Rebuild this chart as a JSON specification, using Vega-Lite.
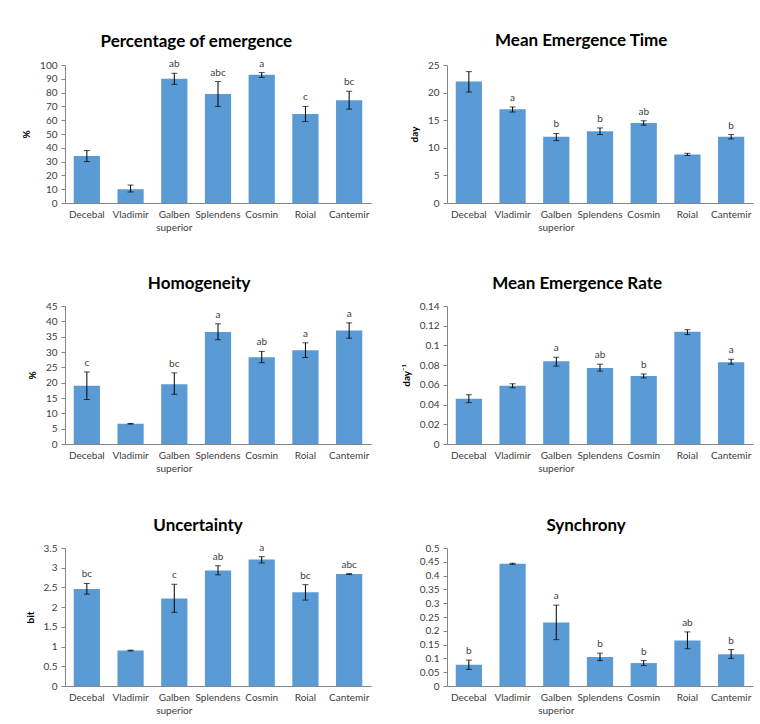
{
  "$schema": "https://vega.github.io/schema/vega-lite/v6.json",
  "background": "white",
  "padding": {"left": 21, "top": 31, "right": 5, "bottom": 5},
  "datasets": {
    "rows": [
      {"panel": "P1", "cultivar": "Decebal", "mean": 34, "lo": 30, "hi": 38, "letter": ""},
      {"panel": "P1", "cultivar": "Vladimir", "mean": 10, "lo": 8, "hi": 13, "letter": ""},
      {"panel": "P1", "cultivar": "Galben superior", "mean": 90, "lo": 86, "hi": 94, "letter": "ab"},
      {"panel": "P1", "cultivar": "Splendens", "mean": 79, "lo": 70, "hi": 88, "letter": "abc"},
      {"panel": "P1", "cultivar": "Cosmin", "mean": 93, "lo": 91, "hi": 94.5, "letter": "a"},
      {"panel": "P1", "cultivar": "Roial", "mean": 64.5, "lo": 59, "hi": 70, "letter": "c"},
      {"panel": "P1", "cultivar": "Cantemir", "mean": 74.5, "lo": 68, "hi": 81, "letter": "bc"},

      {"panel": "P2", "cultivar": "Decebal", "mean": 22, "lo": 20.1, "hi": 23.8, "letter": ""},
      {"panel": "P2", "cultivar": "Vladimir", "mean": 17, "lo": 16.5, "hi": 17.4, "letter": "a"},
      {"panel": "P2", "cultivar": "Galben superior", "mean": 12, "lo": 11.3, "hi": 12.6, "letter": "b"},
      {"panel": "P2", "cultivar": "Splendens", "mean": 13, "lo": 12.4, "hi": 13.6, "letter": "b"},
      {"panel": "P2", "cultivar": "Cosmin", "mean": 14.5, "lo": 14.1, "hi": 14.9, "letter": "ab"},
      {"panel": "P2", "cultivar": "Roial", "mean": 8.8, "lo": 8.6, "hi": 9.0, "letter": ""},
      {"panel": "P2", "cultivar": "Cantemir", "mean": 12, "lo": 11.6, "hi": 12.4, "letter": "b"},

      {"panel": "P3", "cultivar": "Decebal", "mean": 19, "lo": 14.5, "hi": 23.5, "letter": "c"},
      {"panel": "P3", "cultivar": "Vladimir", "mean": 6.6, "lo": 6.5, "hi": 6.7, "letter": ""},
      {"panel": "P3", "cultivar": "Galben superior", "mean": 19.5, "lo": 16.2, "hi": 23.2, "letter": "bc"},
      {"panel": "P3", "cultivar": "Splendens", "mean": 36.5, "lo": 34, "hi": 39.2, "letter": "a"},
      {"panel": "P3", "cultivar": "Cosmin", "mean": 28.3, "lo": 26.5, "hi": 30.2, "letter": "ab"},
      {"panel": "P3", "cultivar": "Roial", "mean": 30.6, "lo": 28.2, "hi": 33, "letter": "a"},
      {"panel": "P3", "cultivar": "Cantemir", "mean": 37, "lo": 34.5, "hi": 39.5, "letter": "a"},

      {"panel": "P4", "cultivar": "Decebal", "mean": 0.046, "lo": 0.042, "hi": 0.050, "letter": ""},
      {"panel": "P4", "cultivar": "Vladimir", "mean": 0.059, "lo": 0.057, "hi": 0.061, "letter": ""},
      {"panel": "P4", "cultivar": "Galben superior", "mean": 0.084, "lo": 0.079, "hi": 0.088, "letter": "a"},
      {"panel": "P4", "cultivar": "Splendens", "mean": 0.077, "lo": 0.074, "hi": 0.081, "letter": "ab"},
      {"panel": "P4", "cultivar": "Cosmin", "mean": 0.069, "lo": 0.067, "hi": 0.071, "letter": "b"},
      {"panel": "P4", "cultivar": "Roial", "mean": 0.114, "lo": 0.111, "hi": 0.116, "letter": ""},
      {"panel": "P4", "cultivar": "Cantemir", "mean": 0.083, "lo": 0.081, "hi": 0.086, "letter": "a"},

      {"panel": "P5", "cultivar": "Decebal", "mean": 2.46, "lo": 2.33, "hi": 2.6, "letter": "bc"},
      {"panel": "P5", "cultivar": "Vladimir", "mean": 0.9, "lo": 0.89, "hi": 0.91, "letter": ""},
      {"panel": "P5", "cultivar": "Galben superior", "mean": 2.22, "lo": 1.87, "hi": 2.58, "letter": "c"},
      {"panel": "P5", "cultivar": "Splendens", "mean": 2.93, "lo": 2.82, "hi": 3.05, "letter": "ab"},
      {"panel": "P5", "cultivar": "Cosmin", "mean": 3.21, "lo": 3.12, "hi": 3.28, "letter": "a"},
      {"panel": "P5", "cultivar": "Roial", "mean": 2.38, "lo": 2.18, "hi": 2.57, "letter": "bc"},
      {"panel": "P5", "cultivar": "Cantemir", "mean": 2.84, "lo": 2.83, "hi": 2.85, "letter": "abc"},

      {"panel": "P6", "cultivar": "Decebal", "mean": 0.077, "lo": 0.06, "hi": 0.094, "letter": "b"},
      {"panel": "P6", "cultivar": "Vladimir", "mean": 0.443, "lo": 0.441, "hi": 0.445, "letter": ""},
      {"panel": "P6", "cultivar": "Galben superior", "mean": 0.23, "lo": 0.168, "hi": 0.293, "letter": "a"},
      {"panel": "P6", "cultivar": "Splendens", "mean": 0.105, "lo": 0.092, "hi": 0.119, "letter": "b"},
      {"panel": "P6", "cultivar": "Cosmin", "mean": 0.083, "lo": 0.074, "hi": 0.092, "letter": "b"},
      {"panel": "P6", "cultivar": "Roial", "mean": 0.165, "lo": 0.135, "hi": 0.196, "letter": "ab"},
      {"panel": "P6", "cultivar": "Cantemir", "mean": 0.115, "lo": 0.1, "hi": 0.132, "letter": "b"}
    ]
  },
  "columns": 2,
  "spacing": {"column": 30, "row": 43},
  "concat": [
    {
      "title": {"text": "Percentage of emergence", "offset": 8},
      "width": 306, "height": 138,
      "data": {"name": "rows"},
      "transform": [{"filter": "datum.panel == 'P1'"}],
      "encoding": {"x": {"field": "cultivar", "type": "nominal", "sort": null, "scale": {"paddingInner": 0.4, "paddingOuter": 0.2}, "axis": {"labelExpr": "split(datum.label, ' ')"}}},
      "layer": [
        {"mark": {"type": "bar", "color": "#5B9BD5"}, "encoding": {"y": {"field": "mean", "type": "quantitative", "title": "%", "scale": {"domain": [0, 100]}, "axis": {"values": [0,10,20,30,40,50,60,70,80,90,100]}}}},
        {"mark": {"type": "rule", "color": "#000", "strokeWidth": 1}, "encoding": {"y": {"field": "lo", "type": "quantitative", "title": "%", "scale": {"domain": [0, 100]}, "axis": {"values": [0,10,20,30,40,50,60,70,80,90,100]}}, "y2": {"field": "hi"}}},
        {"mark": {"type": "tick", "color": "#000", "size": 6, "thickness": 1}, "encoding": {"y": {"field": "lo", "type": "quantitative", "title": "%", "scale": {"domain": [0, 100]}, "axis": {"values": [0,10,20,30,40,50,60,70,80,90,100]}}}},
        {"mark": {"type": "tick", "color": "#000", "size": 6, "thickness": 1}, "encoding": {"y": {"field": "hi", "type": "quantitative", "title": "%", "scale": {"domain": [0, 100]}, "axis": {"values": [0,10,20,30,40,50,60,70,80,90,100]}}}},
        {"mark": {"type": "text", "baseline": "bottom", "dy": -4, "fontSize": 10, "color": "#404040", "font": "Lato"}, "encoding": {"y": {"field": "hi", "type": "quantitative", "title": "%", "scale": {"domain": [0, 100]}, "axis": {"values": [0,10,20,30,40,50,60,70,80,90,100]}}, "text": {"field": "letter"}}}
      ]
    },
    {
      "title": {"text": "Mean Emergence Time", "offset": 8},
      "width": 306, "height": 138,
      "data": {"name": "rows"},
      "transform": [{"filter": "datum.panel == 'P2'"}],
      "encoding": {"x": {"field": "cultivar", "type": "nominal", "sort": null, "scale": {"paddingInner": 0.4, "paddingOuter": 0.2}, "axis": {"labelExpr": "split(datum.label, ' ')"}}},
      "layer": [
        {"mark": {"type": "bar", "color": "#5B9BD5"}, "encoding": {"y": {"field": "mean", "type": "quantitative", "title": "day", "scale": {"domain": [0, 25]}, "axis": {"values": [0,5,10,15,20,25]}}}},
        {"mark": {"type": "rule", "color": "#000", "strokeWidth": 1}, "encoding": {"y": {"field": "lo", "type": "quantitative", "title": "day", "scale": {"domain": [0, 25]}, "axis": {"values": [0,5,10,15,20,25]}}, "y2": {"field": "hi"}}},
        {"mark": {"type": "tick", "color": "#000", "size": 6, "thickness": 1}, "encoding": {"y": {"field": "lo", "type": "quantitative", "title": "day", "scale": {"domain": [0, 25]}, "axis": {"values": [0,5,10,15,20,25]}}}},
        {"mark": {"type": "tick", "color": "#000", "size": 6, "thickness": 1}, "encoding": {"y": {"field": "hi", "type": "quantitative", "title": "day", "scale": {"domain": [0, 25]}, "axis": {"values": [0,5,10,15,20,25]}}}},
        {"mark": {"type": "text", "baseline": "bottom", "dy": -4, "fontSize": 10, "color": "#404040", "font": "Lato"}, "encoding": {"y": {"field": "hi", "type": "quantitative", "title": "day", "scale": {"domain": [0, 25]}, "axis": {"values": [0,5,10,15,20,25]}}, "text": {"field": "letter"}}}
      ]
    },
    {
      "title": {"text": "Homogeneity", "offset": 8},
      "width": 306, "height": 138,
      "data": {"name": "rows"},
      "transform": [{"filter": "datum.panel == 'P3'"}],
      "encoding": {"x": {"field": "cultivar", "type": "nominal", "sort": null, "scale": {"paddingInner": 0.4, "paddingOuter": 0.2}, "axis": {"labelExpr": "split(datum.label, ' ')"}}},
      "layer": [
        {"mark": {"type": "bar", "color": "#5B9BD5"}, "encoding": {"y": {"field": "mean", "type": "quantitative", "title": "%", "scale": {"domain": [0, 45]}, "axis": {"values": [0,5,10,15,20,25,30,35,40,45]}}}},
        {"mark": {"type": "rule", "color": "#000", "strokeWidth": 1}, "encoding": {"y": {"field": "lo", "type": "quantitative", "title": "%", "scale": {"domain": [0, 45]}, "axis": {"values": [0,5,10,15,20,25,30,35,40,45]}}, "y2": {"field": "hi"}}},
        {"mark": {"type": "tick", "color": "#000", "size": 6, "thickness": 1}, "encoding": {"y": {"field": "lo", "type": "quantitative", "title": "%", "scale": {"domain": [0, 45]}, "axis": {"values": [0,5,10,15,20,25,30,35,40,45]}}}},
        {"mark": {"type": "tick", "color": "#000", "size": 6, "thickness": 1}, "encoding": {"y": {"field": "hi", "type": "quantitative", "title": "%", "scale": {"domain": [0, 45]}, "axis": {"values": [0,5,10,15,20,25,30,35,40,45]}}}},
        {"mark": {"type": "text", "baseline": "bottom", "dy": -4, "fontSize": 10, "color": "#404040", "font": "Lato"}, "encoding": {"y": {"field": "hi", "type": "quantitative", "title": "%", "scale": {"domain": [0, 45]}, "axis": {"values": [0,5,10,15,20,25,30,35,40,45]}}, "text": {"field": "letter"}}}
      ]
    },
    {
      "title": {"text": "Mean Emergence Rate", "offset": 8},
      "width": 306, "height": 138,
      "data": {"name": "rows"},
      "transform": [{"filter": "datum.panel == 'P4'"}],
      "encoding": {"x": {"field": "cultivar", "type": "nominal", "sort": null, "scale": {"paddingInner": 0.4, "paddingOuter": 0.2}, "axis": {"labelExpr": "split(datum.label, ' ')"}}},
      "layer": [
        {"mark": {"type": "bar", "color": "#5B9BD5"}, "encoding": {"y": {"field": "mean", "type": "quantitative", "title": "day⁻¹", "scale": {"domain": [0, 0.14]}, "axis": {"values": [0,0.02,0.04,0.06,0.08,0.1,0.12,0.14], "format": ".2~f"}}}},
        {"mark": {"type": "rule", "color": "#000", "strokeWidth": 1}, "encoding": {"y": {"field": "lo", "type": "quantitative", "title": "day⁻¹", "scale": {"domain": [0, 0.14]}, "axis": {"values": [0,0.02,0.04,0.06,0.08,0.1,0.12,0.14], "format": ".2~f"}}, "y2": {"field": "hi"}}},
        {"mark": {"type": "tick", "color": "#000", "size": 6, "thickness": 1}, "encoding": {"y": {"field": "lo", "type": "quantitative", "title": "day⁻¹", "scale": {"domain": [0, 0.14]}, "axis": {"values": [0,0.02,0.04,0.06,0.08,0.1,0.12,0.14], "format": ".2~f"}}}},
        {"mark": {"type": "tick", "color": "#000", "size": 6, "thickness": 1}, "encoding": {"y": {"field": "hi", "type": "quantitative", "title": "day⁻¹", "scale": {"domain": [0, 0.14]}, "axis": {"values": [0,0.02,0.04,0.06,0.08,0.1,0.12,0.14], "format": ".2~f"}}}},
        {"mark": {"type": "text", "baseline": "bottom", "dy": -4, "fontSize": 10, "color": "#404040", "font": "Lato"}, "encoding": {"y": {"field": "hi", "type": "quantitative", "title": "day⁻¹", "scale": {"domain": [0, 0.14]}, "axis": {"values": [0,0.02,0.04,0.06,0.08,0.1,0.12,0.14], "format": ".2~f"}}, "text": {"field": "letter"}}}
      ]
    },
    {
      "title": {"text": "Uncertainty", "offset": 8},
      "width": 306, "height": 138,
      "data": {"name": "rows"},
      "transform": [{"filter": "datum.panel == 'P5'"}],
      "encoding": {"x": {"field": "cultivar", "type": "nominal", "sort": null, "scale": {"paddingInner": 0.4, "paddingOuter": 0.2}, "axis": {"labelExpr": "split(datum.label, ' ')"}}},
      "layer": [
        {"mark": {"type": "bar", "color": "#5B9BD5"}, "encoding": {"y": {"field": "mean", "type": "quantitative", "title": "bit", "scale": {"domain": [0, 3.5]}, "axis": {"values": [0,0.5,1,1.5,2,2.5,3,3.5], "format": ".1~f"}}}},
        {"mark": {"type": "rule", "color": "#000", "strokeWidth": 1}, "encoding": {"y": {"field": "lo", "type": "quantitative", "title": "bit", "scale": {"domain": [0, 3.5]}, "axis": {"values": [0,0.5,1,1.5,2,2.5,3,3.5], "format": ".1~f"}}, "y2": {"field": "hi"}}},
        {"mark": {"type": "tick", "color": "#000", "size": 6, "thickness": 1}, "encoding": {"y": {"field": "lo", "type": "quantitative", "title": "bit", "scale": {"domain": [0, 3.5]}, "axis": {"values": [0,0.5,1,1.5,2,2.5,3,3.5], "format": ".1~f"}}}},
        {"mark": {"type": "tick", "color": "#000", "size": 6, "thickness": 1}, "encoding": {"y": {"field": "hi", "type": "quantitative", "title": "bit", "scale": {"domain": [0, 3.5]}, "axis": {"values": [0,0.5,1,1.5,2,2.5,3,3.5], "format": ".1~f"}}}},
        {"mark": {"type": "text", "baseline": "bottom", "dy": -4, "fontSize": 10, "color": "#404040", "font": "Lato"}, "encoding": {"y": {"field": "hi", "type": "quantitative", "title": "bit", "scale": {"domain": [0, 3.5]}, "axis": {"values": [0,0.5,1,1.5,2,2.5,3,3.5], "format": ".1~f"}}, "text": {"field": "letter"}}}
      ]
    },
    {
      "title": {"text": "Synchrony", "offset": 8},
      "width": 306, "height": 138,
      "data": {"name": "rows"},
      "transform": [{"filter": "datum.panel == 'P6'"}],
      "encoding": {"x": {"field": "cultivar", "type": "nominal", "sort": null, "scale": {"paddingInner": 0.4, "paddingOuter": 0.2}, "axis": {"labelExpr": "split(datum.label, ' ')"}}},
      "layer": [
        {"mark": {"type": "bar", "color": "#5B9BD5"}, "encoding": {"y": {"field": "mean", "type": "quantitative", "title": null, "scale": {"domain": [0, 0.5]}, "axis": {"values": [0,0.05,0.1,0.15,0.2,0.25,0.3,0.35,0.4,0.45,0.5], "format": ".2~f"}}}},
        {"mark": {"type": "rule", "color": "#000", "strokeWidth": 1}, "encoding": {"y": {"field": "lo", "type": "quantitative", "title": null, "scale": {"domain": [0, 0.5]}, "axis": {"values": [0,0.05,0.1,0.15,0.2,0.25,0.3,0.35,0.4,0.45,0.5], "format": ".2~f"}}, "y2": {"field": "hi"}}},
        {"mark": {"type": "tick", "color": "#000", "size": 6, "thickness": 1}, "encoding": {"y": {"field": "lo", "type": "quantitative", "title": null, "scale": {"domain": [0, 0.5]}, "axis": {"values": [0,0.05,0.1,0.15,0.2,0.25,0.3,0.35,0.4,0.45,0.5], "format": ".2~f"}}}},
        {"mark": {"type": "tick", "color": "#000", "size": 6, "thickness": 1}, "encoding": {"y": {"field": "hi", "type": "quantitative", "title": null, "scale": {"domain": [0, 0.5]}, "axis": {"values": [0,0.05,0.1,0.15,0.2,0.25,0.3,0.35,0.4,0.45,0.5], "format": ".2~f"}}}},
        {"mark": {"type": "text", "baseline": "bottom", "dy": -4, "fontSize": 10, "color": "#404040", "font": "Lato"}, "encoding": {"y": {"field": "hi", "type": "quantitative", "title": null, "scale": {"domain": [0, 0.5]}, "axis": {"values": [0,0.05,0.1,0.15,0.2,0.25,0.3,0.35,0.4,0.45,0.5], "format": ".2~f"}}, "text": {"field": "letter"}}}
      ]
    }
  ],
  "config": {
    "font": "Lato",
    "view": {"stroke": null},
    "axis": {
      "labelFont": "Lato",
      "labelFontSize": 10,
      "labelColor": "#404040",
      "domainColor": "#868686",
      "tickColor": "#868686",
      "tickSize": 4,
      "grid": false,
      "titleFont": "Lato",
      "titleFontSize": 10,
      "titleFontWeight": "bold",
      "titleColor": "#000"
    },
    "axisX": {"ticks": false, "labelAngle": 0, "title": null, "labelPadding": 6, "labelLineHeight": 13},
    "axisY": {"labelPadding": 4, "titlePadding": 8, "labelOverlap": false},
    "title": {"font": "Lato", "fontSize": 17, "fontWeight": "bold", "color": "#000", "anchor": "middle", "frame": "bounds"}
  }
}
